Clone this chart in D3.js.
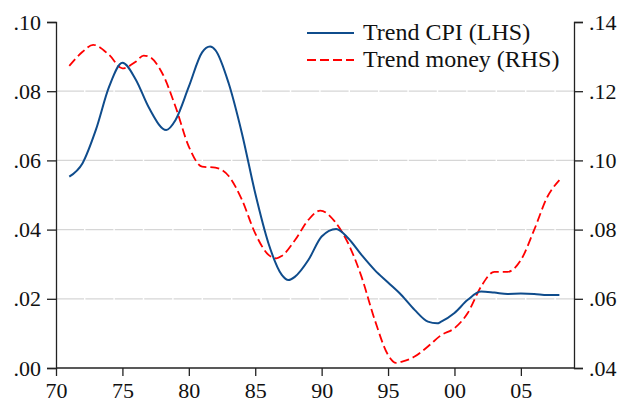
<!DOCTYPE html>
<html lang="en">
<head>
    <meta charset="UTF-8">
    <script src="https://d3js.org/d3.v7.min.js"></script>
    <title>Trend CPI and money</title>
    <style>
        html,body{margin:0;padding:0;background:#fff;}
        #chart text{font-family:'Liberation Serif','Times New Roman',serif;fill:#111;}
        .grid line{stroke:#d6d6d6;stroke-width:1.2px;stroke-dasharray:28,1.4;}
        .axis path,.axis line{stroke:#222;stroke-width:1.3px;}
    </style>
</head>
<body>
<div id="chart"></div>
<script>
    // trend CPI, left scale
    var cpiYears  = [1971, 1972, 1973, 1974, 1975, 1976, 1977, 1978.3, 1979, 1980, 1981, 1981.6, 1982, 1983, 1984, 1985, 1986, 1987, 1987.5, 1988, 1989, 1990, 1991.1, 1992, 1993, 1994, 1995, 1996, 1997, 1998, 1998.7, 1999, 2000, 2001, 2002, 2003, 2004, 2005, 2006, 2007, 2007.9];
    var cpiValues = [.0553, .0592, .0688, .0813, .0882, .0834, .0752, .0688, .0717, .0813, .0912, .0929, .0919, .0823, .0678, .0505, .0360, .0269, .0254, .0264, .0312, .0380, .0402, .0375, .0327, .0283, .0247, .0211, .0168, .0134, .0129, .0134, .0159, .0197, .0221, .0218, .0214, .0215, .0214, .0211, .0211];

    // trend money, right scale
    var moneyYears  = [1971, 1972, 1972.8, 1974, 1975, 1976, 1976.6, 1977, 1978, 1979, 1980, 1981, 1982, 1983, 1984, 1985, 1986, 1986.6, 1987, 1988, 1989, 1989.9, 1991, 1992, 1993, 1994, 1995, 1995.6, 1996, 1997, 1998, 1999, 2000, 2001, 2002, 2003, 2004, 2005, 2006, 2007, 2007.9];
    var moneyValues = [.1273, .1314, .1334, .1305, .1266, .1285, .1303, .1300, .1252, .1155, .1040, .0982, .0979, .0955, .0886, .0789, .0727, .0717, .0724, .0770, .0828, .0855, .0823, .0760, .0664, .0539, .0438, .0415, .0418, .0433, .0462, .0495, .0515, .0559, .0635, .0678, .0678, .0712, .0799, .0895, .0943];

    var yearTicks  = [1970, 1975, 1980, 1985, 1990, 1995, 2000, 2005];
    var leftTicks  = [0, .02, .04, .06, .08, .10];
    var rightTicks = [.04, .06, .08, .10, .12, .14];
    var legendLabels = ["Trend CPI (LHS)", "Trend money (RHS)"];

    var width = 628, height = 406;
    var plotLeft = 56, plotRight = 574, plotTop = 22, plotBottom = 368;

    var svg = d3.select("#chart").append("svg")
        .attr("width", width)
        .attr("height", height);

    var x = d3.scaleLinear().domain([1970, 2009]).range([plotLeft, plotRight]);
    var yL = d3.scaleLinear().domain([0, .10]).range([plotBottom, plotTop]);
    var yR = d3.scaleLinear().domain([.04, .14]).range([plotBottom, plotTop]);

    var fmt = function(d){ return d3.format(".2f")(d).replace(/^0/, ""); };

    // grid
    svg.append("g").attr("class", "grid")
        .selectAll("line")
        .data(leftTicks.filter(function(d){ return d > 0 && d < .10; }))
        .enter().append("line")
        .attr("x1", plotLeft).attr("x2", plotRight)
        .attr("y1", function(d){ return yL(d); })
        .attr("y2", function(d){ return yL(d); });

    // axes
    var gx = svg.append("g").attr("class", "axis")
        .attr("transform", "translate(0," + plotBottom + ")")
        .call(d3.axisBottom(x).tickValues(yearTicks).tickSizeOuter(0).tickSize(8).tickPadding(4)
            .tickFormat(function(d){ return d3.format("02d")(d % 100); }));
    gx.select(".domain").attr("d", "M" + plotLeft + ",0H" + plotRight);

    var gl = svg.append("g").attr("class", "axis")
        .attr("transform", "translate(" + plotLeft + ",0)")
        .call(d3.axisLeft(yL).tickValues(leftTicks).tickSizeOuter(0).tickSize(9).tickPadding(6).tickFormat(fmt));

    var gr = svg.append("g").attr("class", "axis")
        .attr("transform", "translate(" + plotRight + ",0)")
        .call(d3.axisRight(yR).tickValues(rightTicks).tickSizeOuter(0).tickSize(9).tickPadding(6).tickFormat(fmt));

    svg.selectAll(".axis text").style("font-size", "22px");
    gx.selectAll("text").attr("dy", "0.8em");

    // lines
    var cpiLine = d3.line()
        .x(function(d, i){ return x(cpiYears[i]); })
        .y(function(d){ return yL(d); })
        .curve(d3.curveMonotoneX);

    var moneyLine = d3.line()
        .x(function(d, i){ return x(moneyYears[i]); })
        .y(function(d){ return yR(d); })
        .curve(d3.curveMonotoneX);

    svg.append("path").datum(moneyValues)
        .attr("d", moneyLine)
        .attr("fill", "none")
        .attr("stroke", "#ff0000")
        .attr("stroke-width", 1.8)
        .attr("stroke-dasharray", "9,4");

    svg.append("path").datum(cpiValues)
        .attr("d", cpiLine)
        .attr("fill", "none")
        .attr("stroke", "#0f4c8c")
        .attr("stroke-width", 2);

    // legend
    var legend = svg.append("g").attr("transform", "translate(307,33)");
    var items = legend.selectAll("g").data(legendLabels).enter().append("g")
        .attr("transform", function(d, i){ return "translate(0," + (i * 27) + ")"; });
    items.append("line")
        .attr("x1", 0).attr("x2", 47)
        .attr("stroke", function(d, i){ return i == 0 ? "#0f4c8c" : "#ff0000"; })
        .attr("stroke-width", function(d, i){ return i == 0 ? 2 : 1.8; })
        .attr("stroke-dasharray", function(d, i){ return i == 0 ? null : "9,4"; });
    items.append("text")
        .attr("x", 56).attr("y", 7)
        .style("font-size", "24px")
        .text(function(d){ return d; });
</script>
</body>
</html>
